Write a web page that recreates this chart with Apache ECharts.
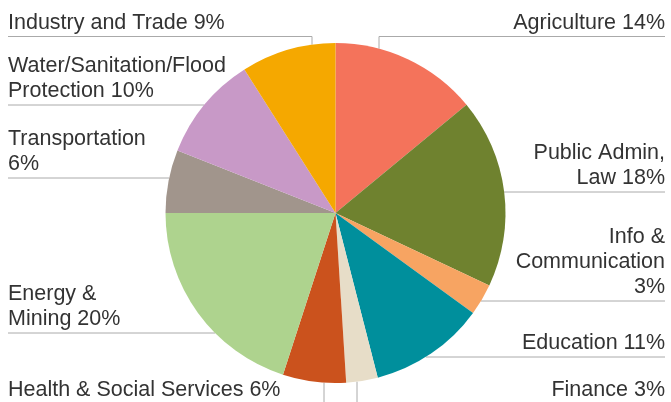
<!DOCTYPE html>
<html>
<head>
<meta charset="utf-8">
<script src="https://cdn.jsdelivr.net/npm/echarts@6/dist/echarts.min.js"></script>
<style>html,body{margin:0;padding:0;background:#fff}#c{width:671px;height:402px}</style>
</head>
<body>
<div id="c"></div>
<script>
// ---- data ----
const categories = ['Agriculture', 'Public Admin, Law', 'Info & Communication', 'Education', 'Finance',
  'Health & Social Services', 'Energy & Mining', 'Transportation', 'Water/Sanitation/Flood Protection', 'Industry and Trade'];
const shares = [14, 18, 3, 11, 3, 6, 20, 6, 10, 9];
const colors = ['#F4735B', '#6F822F', '#F7A462', '#008F9C', '#E7DDC8', '#CB521D', '#AED38E', '#A1958C', '#C899C7', '#F5A800'];
// words after which the label wraps
const breakAfter = [[], ['Admin,'], ['&', 'Communication'], [], [], [], ['&'], ['Transportation'], ['Water/Sanitation/Flood'], []];

// ---- layout (not data) ----
const CX = 335.5, CY = 213, R = 170;
const RIGHT_X = 665, LEFT_X = 8;
// side, underline y, optional vertical leader x
const labelPos = [
  {side: 'r', y: 36.5, vx: 379},
  {side: 'r', y: 192},
  {side: 'r', y: 301},
  {side: 'r', y: 357},
  {side: 'r', y: 404, vx: 357},
  {side: 'l', y: 404, vx: 324},
  {side: 'l', y: 333},
  {side: 'l', y: 178},
  {side: 'l', y: 105},
  {side: 'l', y: 36.5, vx: 312}
];

function wrap(idx, text) {
  const words = text.split(' ');
  let out = '';
  words.forEach((w, i) => {
    out += w;
    if (i < words.length - 1) out += breakAfter[idx].indexOf(w) >= 0 ? '\n' : ' ';
  });
  return out;
}

const chart = echarts.init(document.getElementById('c'), null, {renderer: 'canvas'});
chart.setOption({
  animation: false,
  series: [{
    type: 'pie',
    center: [CX, CY],
    radius: R,
    startAngle: 90,
    clockwise: true,
    data: categories.map((n, i) => ({name: n, value: shares[i], itemStyle: {color: colors[i]}})),
    label: {
      show: true,
      formatter: p => wrap(p.dataIndex, p.name + ' ' + p.value + '%'),
      fontFamily: 'Liberation Sans, Arial, sans-serif',
      fontSize: 21.5,
      lineHeight: 25,
      color: '#333333',
      overflow: 'none',
      width: 400
    },
    labelLine: {show: true, lineStyle: {color: '#AAAAAA', width: 1}, smooth: false},
    emphasis: {disabled: true},
    labelLayout: function (params) {
      const lp = labelPos[params.dataIndex];
      const right = lp.side === 'r';
      const lx = right ? RIGHT_X : LEFT_X;
      let pts;
      if (lp.vx !== undefined) {
        const dx = lp.vx - CX;
        const h = Math.sqrt(R * R - dx * dx);
        const py = lp.y < CY ? CY - h : CY + h;
        pts = [[lp.vx, py], [lp.vx, lp.y], [lx, lp.y]];
      } else {
        const dy = lp.y - CY;
        const w = Math.sqrt(R * R - dy * dy);
        const px = right ? CX + w : CX - w;
        pts = [[px, lp.y], [px, lp.y], [lx, lp.y]];
      }
      return {
        x: lx,
        y: lp.y - 1,
        align: right ? 'right' : 'left',
        verticalAlign: 'bottom',
        labelLinePoints: pts
      };
    }
  }]
});
</script>
</body>
</html>
